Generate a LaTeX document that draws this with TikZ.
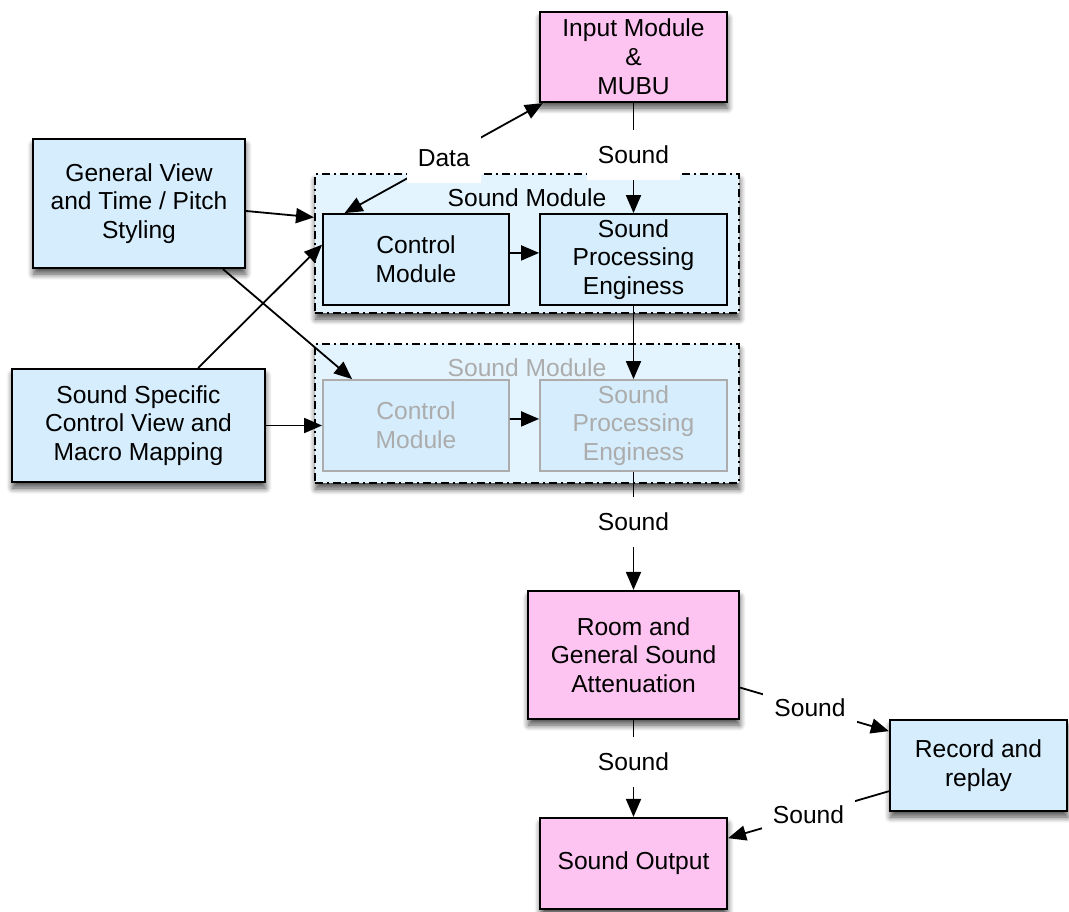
\documentclass[tikz,border=0pt]{standalone}
\usepackage{fontspec}
\setmainfont{Liberation Sans}
\usetikzlibrary{arrows.meta,shadows.blur}
\definecolor{boxblue}{RGB}{213,237,252}
\definecolor{grpblue}{RGB}{227,244,254}
\definecolor{boxpink}{RGB}{254,196,241}
\definecolor{ghost}{RGB}{172,172,172}
\begin{document}
\begin{tikzpicture}[x=0.5pt,y=-0.5pt,
  font=\fontsize{12.3}{14.4}\selectfont,
  shad/.style={blur shadow={shadow xshift=0.3pt,shadow yshift=-3pt,shadow blur radius=3pt,shadow blur steps=8,shadow opacity=70}},
  box/.style={rectangle,draw=black,line width=1.1pt,align=center,inner sep=0pt},
  bluebox/.style={box,fill=boxblue,shad},
  pinkbox/.style={box,fill=boxpink,shad},
  inbox/.style={box,fill=boxblue,line width=0.9pt},
  ghostbox/.style={inbox,draw=ghost,text=ghost},
  group/.style={rectangle,draw=black,line width=1pt,fill=grpblue,dash pattern=on 4pt off 2pt on 1pt off 2pt,shad,inner sep=0pt},
  lbl/.style={rectangle,fill=white,inner xsep=5.5pt,inner ysep=0pt,minimum height=25pt},
  conn/.style={line width=0.9pt,-{Triangle[length=9pt,width=7.5pt]}},
  conntwo/.style={line width=0.9pt,{Triangle[length=9pt,width=7.5pt]}-{Triangle[length=9pt,width=7.5pt]}},
  ]
\useasboundingbox (0,0) rectangle (1069,911);

% groups
\node[group,minimum width=212pt,minimum height=69.5pt] (sm1) at (527,243.5) {};
\node[group,minimum width=212pt,minimum height=69.5pt] (sm2) at (527,413.5) {};
\node (sm1t) at (527,198) {Sound Module};
\node[text=ghost] (sm2t) at (527,368) {Sound Module};

% inner modules
\node[inbox,minimum width=93pt,minimum height=45.5pt] (ctrl1) at (416,259.5) {Control\\Module};
\node[inbox,minimum width=93.5pt,minimum height=45.5pt] (spe1) at (633.5,259.5) {Sound\\Processing\\Enginess};
\node[ghostbox,minimum width=93pt,minimum height=45.5pt] (ctrl2) at (416,425.5) {Control\\Module};
\node[ghostbox,minimum width=93.5pt,minimum height=45.5pt] (spe2) at (633.5,425.5) {Sound\\Processing\\Enginess};

% other boxes
\node[pinkbox,minimum width=93.5pt,minimum height=45pt] (inp) at (633.5,57) {Input Module\\\&\\MUBU};
\node[bluebox,minimum width=106pt,minimum height=64.5pt] (gv) at (139,203.5) {General View\\and Time / Pitch\\Styling};
\node[bluebox,minimum width=126.5pt,minimum height=56.5pt] (ssc) at (138.5,425.5) {Sound Specific\\Control View and\\Macro Mapping};
\node[pinkbox,minimum width=105.5pt,minimum height=64pt] (room) at (633.5,655) {Room and\\General Sound\\Attenuation};
\node[pinkbox,minimum width=93.5pt,minimum height=45.5pt] (out) at (633.5,863.5) {Sound Output};
\node[bluebox,minimum width=88.5pt,minimum height=45.5pt] (rec) at (978.5,765.5) {Record and\\replay};

% connectors
\draw[conntwo] (ctrl1.147) -- node[lbl] (l0) {Data} (inp.207);
\draw[conn] (inp.south) -- node[lbl,pos=0.47] (l1) {Sound} (spe1.north);
\draw[conn] (gv.-4.6) -- (sm1.173);
\draw[conn] (ssc.44.5) -- (ctrl1.171);
\draw[conn] (gv.-38.9) -- (ctrl2.144.6);
\draw[conn] (ctrl1.4) -- (spe1.176);
\draw[conn] (ssc.east) -- (ctrl2.west);
\draw[conn] (ctrl2.4) -- (spe2.176);
\draw[conn] (spe1.south) -- (spe2.north);
\draw[conn] (spe2.south) -- node[lbl,pos=0.425] (l2) {Sound} (room.north);
\draw[conn] (room.south) -- node[lbl,pos=0.43] (l3) {Sound} (out.north);
\draw[conn] (room.-17.4) -- node[lbl,pos=0.47] (l4) {Sound} (rec.159.8);
\draw[conn] (rec.196.7) -- node[lbl,pos=0.5] (l5) {Sound} (out.15.8);
\end{tikzpicture}
\end{document}
